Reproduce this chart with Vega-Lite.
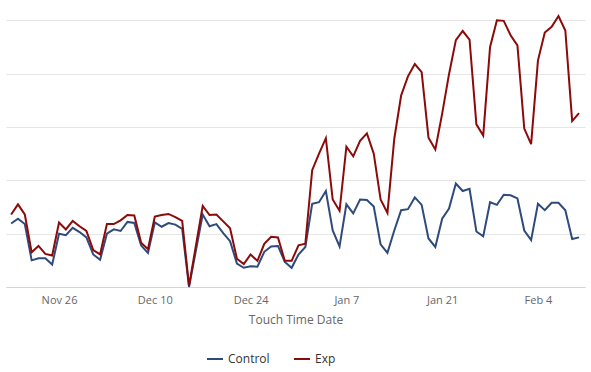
{
  "$schema": "https://vega.github.io/schema/vega-lite/v6.json",
  "width": 579,
  "height": 280,
  "autosize": {"type": "none"},
  "padding": {"left": 6, "top": 7, "right": 6, "bottom": 85},
  "config": {"view": {"stroke": null}, "font": "Open Sans"},
  "data": {"values": [
    {"date": "2018-11-19", "Control": 1.19, "Exp": 1.36},
    {"date": "2018-11-20", "Control": 1.28, "Exp": 1.55},
    {"date": "2018-11-21", "Control": 1.18, "Exp": 1.36},
    {"date": "2018-11-22", "Control": 0.50, "Exp": 0.65},
    {"date": "2018-11-23", "Control": 0.54, "Exp": 0.77},
    {"date": "2018-11-24", "Control": 0.54, "Exp": 0.62},
    {"date": "2018-11-25", "Control": 0.42, "Exp": 0.59},
    {"date": "2018-11-26", "Control": 1.00, "Exp": 1.21},
    {"date": "2018-11-27", "Control": 0.97, "Exp": 1.08},
    {"date": "2018-11-28", "Control": 1.11, "Exp": 1.24},
    {"date": "2018-11-29", "Control": 1.03, "Exp": 1.14},
    {"date": "2018-11-30", "Control": 0.93, "Exp": 1.05},
    {"date": "2018-12-01", "Control": 0.61, "Exp": 0.69},
    {"date": "2018-12-02", "Control": 0.51, "Exp": 0.61},
    {"date": "2018-12-03", "Control": 1.00, "Exp": 1.18},
    {"date": "2018-12-04", "Control": 1.08, "Exp": 1.18},
    {"date": "2018-12-05", "Control": 1.05, "Exp": 1.25},
    {"date": "2018-12-06", "Control": 1.22, "Exp": 1.35},
    {"date": "2018-12-07", "Control": 1.20, "Exp": 1.34},
    {"date": "2018-12-08", "Control": 0.78, "Exp": 0.83},
    {"date": "2018-12-09", "Control": 0.64, "Exp": 0.71},
    {"date": "2018-12-10", "Control": 1.21, "Exp": 1.32},
    {"date": "2018-12-11", "Control": 1.13, "Exp": 1.35},
    {"date": "2018-12-12", "Control": 1.20, "Exp": 1.37},
    {"date": "2018-12-13", "Control": 1.17, "Exp": 1.31},
    {"date": "2018-12-14", "Control": 1.09, "Exp": 1.24},
    {"date": "2018-12-15", "Control": 0.00, "Exp": 0.02},
    {"date": "2018-12-16", "Control": 0.68, "Exp": 0.77},
    {"date": "2018-12-17", "Control": 1.36, "Exp": 1.52},
    {"date": "2018-12-18", "Control": 1.14, "Exp": 1.35},
    {"date": "2018-12-19", "Control": 1.18, "Exp": 1.36},
    {"date": "2018-12-20", "Control": 1.01, "Exp": 1.23},
    {"date": "2018-12-21", "Control": 0.86, "Exp": 1.10},
    {"date": "2018-12-22", "Control": 0.44, "Exp": 0.53},
    {"date": "2018-12-23", "Control": 0.36, "Exp": 0.43},
    {"date": "2018-12-24", "Control": 0.39, "Exp": 0.61},
    {"date": "2018-12-25", "Control": 0.38, "Exp": 0.49},
    {"date": "2018-12-26", "Control": 0.66, "Exp": 0.81},
    {"date": "2018-12-27", "Control": 0.76, "Exp": 0.94},
    {"date": "2018-12-28", "Control": 0.77, "Exp": 0.93},
    {"date": "2018-12-29", "Control": 0.47, "Exp": 0.49},
    {"date": "2018-12-30", "Control": 0.36, "Exp": 0.49},
    {"date": "2018-12-31", "Control": 0.61, "Exp": 0.78},
    {"date": "2019-01-01", "Control": 0.75, "Exp": 0.81},
    {"date": "2019-01-02", "Control": 1.56, "Exp": 2.19},
    {"date": "2019-01-03", "Control": 1.59, "Exp": 2.50},
    {"date": "2019-01-04", "Control": 1.80, "Exp": 2.79},
    {"date": "2019-01-05", "Control": 1.06, "Exp": 1.64},
    {"date": "2019-01-06", "Control": 0.76, "Exp": 1.43},
    {"date": "2019-01-07", "Control": 1.55, "Exp": 2.63},
    {"date": "2019-01-08", "Control": 1.38, "Exp": 2.45},
    {"date": "2019-01-09", "Control": 1.64, "Exp": 2.74},
    {"date": "2019-01-10", "Control": 1.63, "Exp": 2.88},
    {"date": "2019-01-11", "Control": 1.51, "Exp": 2.50},
    {"date": "2019-01-12", "Control": 0.80, "Exp": 1.64},
    {"date": "2019-01-13", "Control": 0.64, "Exp": 1.39},
    {"date": "2019-01-14", "Control": 1.06, "Exp": 2.78},
    {"date": "2019-01-15", "Control": 1.44, "Exp": 3.59},
    {"date": "2019-01-16", "Control": 1.46, "Exp": 3.95},
    {"date": "2019-01-17", "Control": 1.68, "Exp": 4.18},
    {"date": "2019-01-18", "Control": 1.54, "Exp": 4.03},
    {"date": "2019-01-19", "Control": 0.91, "Exp": 2.80},
    {"date": "2019-01-20", "Control": 0.75, "Exp": 2.58},
    {"date": "2019-01-21", "Control": 1.28, "Exp": 3.25},
    {"date": "2019-01-22", "Control": 1.47, "Exp": 3.99},
    {"date": "2019-01-23", "Control": 1.94, "Exp": 4.63},
    {"date": "2019-01-24", "Control": 1.80, "Exp": 4.80},
    {"date": "2019-01-25", "Control": 1.84, "Exp": 4.64},
    {"date": "2019-01-26", "Control": 1.04, "Exp": 3.05},
    {"date": "2019-01-27", "Control": 0.95, "Exp": 2.84},
    {"date": "2019-01-28", "Control": 1.59, "Exp": 4.50},
    {"date": "2019-01-29", "Control": 1.54, "Exp": 5.00},
    {"date": "2019-01-30", "Control": 1.73, "Exp": 4.99},
    {"date": "2019-01-31", "Control": 1.72, "Exp": 4.72},
    {"date": "2019-02-01", "Control": 1.66, "Exp": 4.53},
    {"date": "2019-02-02", "Control": 1.06, "Exp": 2.97},
    {"date": "2019-02-03", "Control": 0.88, "Exp": 2.68},
    {"date": "2019-02-04", "Control": 1.56, "Exp": 4.25},
    {"date": "2019-02-05", "Control": 1.44, "Exp": 4.77},
    {"date": "2019-02-06", "Control": 1.58, "Exp": 4.88},
    {"date": "2019-02-07", "Control": 1.58, "Exp": 5.08},
    {"date": "2019-02-08", "Control": 1.44, "Exp": 4.81},
    {"date": "2019-02-09", "Control": 0.90, "Exp": 3.11},
    {"date": "2019-02-10", "Control": 0.93, "Exp": 3.26}
  ]},
  "transform": [{"fold": ["Control", "Exp"], "as": ["series", "value"]}],
  "mark": {"type": "line", "strokeWidth": 2, "interpolate": "linear"},
  "encoding": {
    "x": {
      "field": "date", "type": "temporal",
      "scale": {"type": "utc", "domain": [
        {"year": 2018, "month": 11, "date": 18, "hours": 6, "utc": true},
        {"year": 2019, "month": 2, "date": 10, "hours": 21, "utc": true}]},
      "axis": {
        "title": "Touch Time Date",
        "format": "%b %-d",
        "values": [
          {"year": 2018, "month": 11, "date": 26, "utc": true},
          {"year": 2018, "month": 12, "date": 10, "utc": true},
          {"year": 2018, "month": 12, "date": 24, "utc": true},
          {"year": 2019, "month": 1, "date": 7, "utc": true},
          {"year": 2019, "month": 1, "date": 21, "utc": true},
          {"year": 2019, "month": 2, "date": 4, "utc": true}],
        "grid": false, "ticks": false,
        "domainColor": "#ccd6eb",
        "labelColor": "#666666", "labelFontSize": 11, "labelPadding": 7,
        "labelFlush": false,
        "titleColor": "#666666", "titleFontSize": 12, "titleFontWeight": "normal", "titlePadding": 9
      }
    },
    "y": {
      "field": "value", "type": "quantitative",
      "scale": {"domain": [0, 5.25], "nice": false},
      "axis": {"title": null, "labels": false, "ticks": false, "domain": false,
        "values": [0, 1, 2, 3, 4, 5], "gridColor": "#e6e6e6"}
    },
    "color": {
      "field": "series", "type": "nominal",
      "scale": {"domain": ["Control", "Exp"], "range": ["#2f4b7c", "#8b0a0a"]},
      "legend": {"title": null, "orient": "none", "direction": "horizontal",
        "legendX": 200, "legendY": 343, "symbolType": "stroke", "symbolSize": 256,
        "symbolStrokeWidth": 2, "labelFontSize": 12, "labelColor": "#333333", "columnPadding": 20}
    }
  }
}
